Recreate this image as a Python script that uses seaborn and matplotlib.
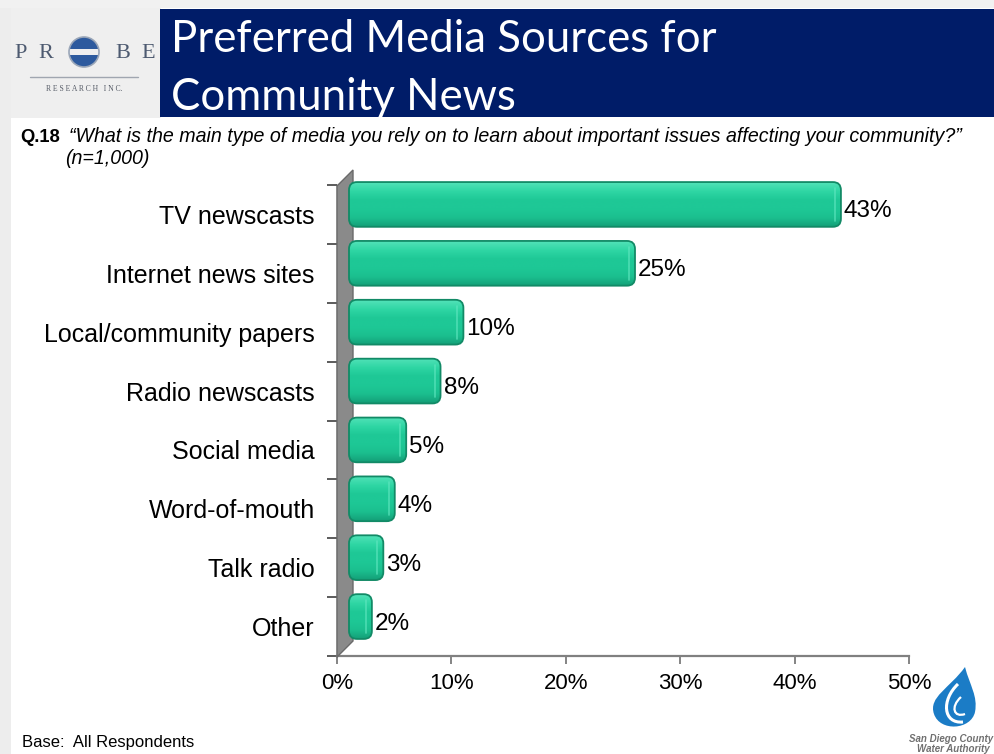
import numpy as np
import pandas as pd
import matplotlib
matplotlib.use("Agg")
import matplotlib.pyplot as plt
import seaborn as sns
from matplotlib.patches import FancyBboxPatch, Polygon, Rectangle, Circle, PathPatch
from matplotlib.path import Path
from matplotlib.colors import LinearSegmentedColormap
from matplotlib.ticker import FixedLocator

# ---- data ----
categories = ["TV newscasts", "Internet news sites", "Local/community papers",
              "Radio newscasts", "Social media", "Word-of-mouth", "Talk radio", "Other"]
shares = [43, 25, 10, 8, 5, 4, 3, 2]
x_ticks = [0, 10, 20, 30, 40, 50]
x_tick_labels = ["0%", "10%", "20%", "30%", "40%", "50%"]

title_lines = ["Preferred Media Sources for", "Community News"]
question = "\u201cWhat is the main type of media you rely on to learn about important issues affecting your community?\u201d"
sample = "(n=1,000)"
base_note = "Base:  All Respondents"

W, H = 995, 754
sns.set_theme(style="white")
plt.rcParams["font.family"] = ["Liberation Sans", "DejaVu Sans"]
plt.rcParams["text.color"] = "black"
plt.rcParams["xtick.labelcolor"] = "black"
plt.rcParams["ytick.labelcolor"] = "black"

fig = plt.figure(figsize=(W / 100, H / 100), dpi=100)
fig.patch.set_facecolor("white")

# chart axes (pixel box: x 337..909, y 185..656)
ax_l, ax_r, ax_t, ax_b = 337, 909, 185, 656
ax = fig.add_axes([ax_l / W, 1 - ax_b / H, (ax_r - ax_l) / W, (ax_b - ax_t) / H], zorder=1)
ax.patch.set_alpha(0)

df = pd.DataFrame({"source": categories, "share": shares})
sns.barplot(data=df, x="share", y="source", orient="h", width=0.76,
            color="#1ec896", ax=ax)
ax.set_xlim(0, 50)
ax.set_ylim(len(categories) - 0.5, -0.5)
ax.set_xlabel("")
ax.set_ylabel("")

ax.xaxis.set_major_locator(FixedLocator(x_ticks))
ax.set_xticklabels(x_tick_labels)
ax.tick_params(axis="x", direction="out", length=6, width=1.2, color="#707070",
               labelsize=16, pad=6, bottom=True, labelcolor="black")
ax.set_yticks(range(len(categories)))
ax.set_yticklabels(categories)
ax.tick_params(axis="y", which="major", length=0, labelsize=18, pad=16,
               labelcolor="black")
ax.yaxis.set_minor_locator(FixedLocator(np.arange(-0.5, len(categories), 1.0)))
ax.tick_params(axis="y", which="minor", direction="out", length=7, width=1.2,
               color="#404040", left=True)
for s in ["top", "right"]:
    ax.spines[s].set_visible(False)
ax.spines["bottom"].set_color("#808080")
ax.spines["bottom"].set_linewidth(1.6)
ax.spines["left"].set_color("#404040")
ax.spines["left"].set_linewidth(1.0)

# overlay axes in pixel coordinates (y downward)
ov = fig.add_axes([0, 0, 1, 1], zorder=2)
ov.patch.set_alpha(0)
ov.set_xlim(0, W)
ov.set_ylim(H, 0)
ov.set_autoscale_on(False)
ov.axis("off")

# page margins and header band
ov.add_patch(Rectangle((0, 0), 11, H, color="#ededed", lw=0))
ov.add_patch(Rectangle((0, 0), W, 8, color="#f1f1f1", lw=0))
ov.add_patch(Rectangle((11, 8), 150, 110, color="#efefef", lw=0))
ov.add_patch(Rectangle((160, 9), W - 160, 108, color="#001c68", lw=0))
ov.text(171, 52, title_lines[0], color="white", fontsize=31.5, family="Lato",
        va="baseline", ha="left")
ov.text(171, 110, title_lines[1], color="white", fontsize=31.5, family="Lato",
        va="baseline", ha="left")

# PROBE research logo
logo_col = "#4d5a70"
for ch, x in zip("PRBE", [21, 46, 123, 148]):
    ov.text(x, 53, ch, fontsize=16, family="Liberation Serif", color=logo_col,
            ha="center", va="center")
ov.add_patch(Circle((84, 52), 15, color="#2d5a9e", lw=0))
ov.add_patch(Rectangle((67, 48.5), 32, 6.5, color="#efefef", lw=0))
ov.add_patch(Circle((84, 52), 15, fill=False, ec="#9aa6b8", lw=1.2))
ov.plot([30, 138], [77, 77], color="#a0a6b0", lw=1)
ov.text(84, 89, "R E S E A R C H   I N C.", fontsize=5.5, family="Liberation Serif",
        color="#555b66", ha="center", va="center")

# question text
ov.text(20, 137, "Q.18", fontsize=13.2, weight="bold", ha="left", va="center")
ov.text(69, 137, question, fontsize=14.1, style="italic", ha="left", va="center")
ov.text(65, 158, sample, fontsize=14.1, style="italic", ha="left", va="center")

# back wall of the 3D chart
wall = Polygon([(337, 657), (337, 186), (353, 170), (353, 641)], closed=True,
               fc="#8a8a8a", ec="#6a6a6a", lw=1)
ov.add_patch(wall)

# bars: take seaborn's bar geometry and redraw as rounded, shaded blocks
to_px = ax.transData + ov.transData.inverted()
dx, dy = 12, -10
grad = LinearSegmentedColormap.from_list(
    "bar", ["#52e2b8", "#2fd6a4", "#1ec896", "#1ec896", "#1bbf8f", "#14a078"])
bars = [p for p in ax.patches]
for p in bars:
    x0, y0 = p.get_x(), p.get_y()
    (px0, py0) = to_px.transform((x0, y0))
    (px1, py1) = to_px.transform((x0 + p.get_width(), y0 + p.get_height()))
    left, right = min(px0, px1) + dx, max(px0, px1) + dx
    top, bottom = min(py0, py1) + dy, max(py0, py1) + dy
    p.set_visible(False)
    box = FancyBboxPatch((left, top), right - left, bottom - top,
                         boxstyle="round,pad=0,rounding_size=8",
                         fc="none", ec="#128a66", lw=1.3, zorder=4)
    ov.add_patch(box)
    img = ov.imshow(np.linspace(0, 1, 64).reshape(-1, 1), cmap=grad, aspect="auto",
                    extent=(left, right, bottom, top), interpolation="bilinear",
                    zorder=3)
    img.set_clip_path(box)
    # end-cap highlight
    ov.plot([right - 6, right - 6], [top + 6, bottom - 6], color="#5fe6bf",
            lw=1.2, alpha=0.7, zorder=4)

# value labels
for i, v in enumerate(shares):
    ax.annotate(f"{v}%", xy=(v, i), xytext=(15 * 0.72, 3 * 0.72),
                textcoords="offset points", ha="left", va="center",
                fontsize=17.5, color="black", zorder=5)

# water authority logo
drop = Path([(965, 667), (970, 686), (978, 696), (975, 712),
             (971, 730), (940, 732), (934, 714),
             (928, 697), (950, 688), (965, 667)],
            [Path.MOVETO, Path.CURVE4, Path.CURVE4, Path.CURVE4,
             Path.CURVE4, Path.CURVE4, Path.CURVE4,
             Path.CURVE4, Path.CURVE4, Path.CURVE4])
ov.add_patch(PathPatch(drop, fc="#1b7cc6", ec="none"))
ov.add_patch(PathPatch(Path([(958, 684), (941, 700), (943, 724), (963, 722)],
                            [Path.MOVETO, Path.CURVE4, Path.CURVE4, Path.CURVE4]),
                       fc="none", ec="white", lw=2.2))
ov.add_patch(PathPatch(Path([(961, 697), (950, 707), (954, 718), (965, 714)],
                            [Path.MOVETO, Path.CURVE4, Path.CURVE4, Path.CURVE4]),
                       fc="none", ec="white", lw=1.6))
ov.text(993, 739, "San Diego County", fontsize=7, weight="bold", style="italic",
        color="#707070", ha="right", va="center")
ov.text(990, 749, "Water Authority", fontsize=7, weight="bold", style="italic",
        color="#707070", ha="right", va="center")

ov.text(22, 743, base_note, fontsize=12, ha="left", va="center")

fig.savefig("out.png", dpi=100)
